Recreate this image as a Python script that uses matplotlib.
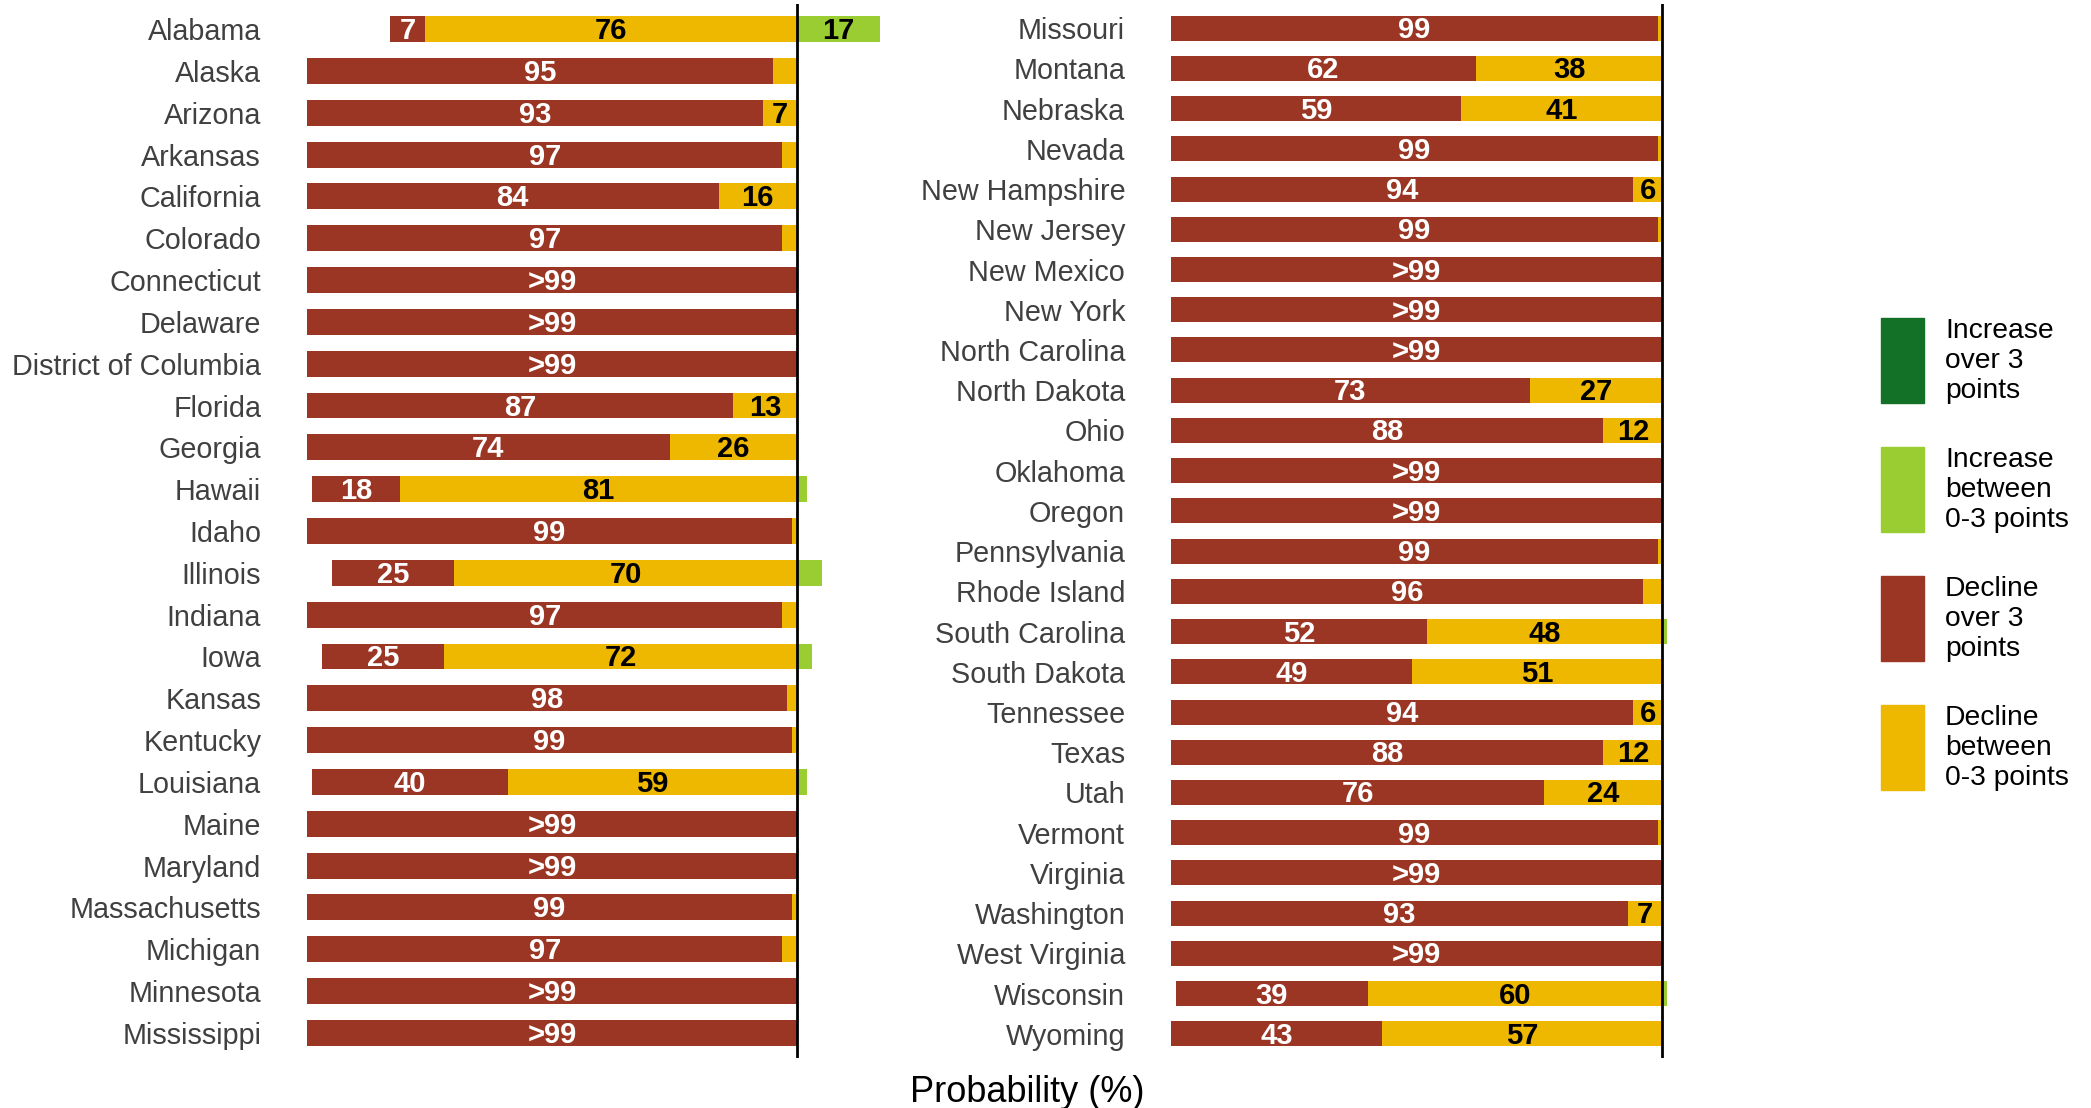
import matplotlib
matplotlib.use('Agg')
import matplotlib.pyplot as plt
from matplotlib.patches import Rectangle
from matplotlib.transforms import offset_copy

plt.rcParams['font.family'] = ['Liberation Sans', 'DejaVu Sans']

# data: probability (%) of each change category, >99 stored as 100
states_l = ['Alabama', 'Alaska', 'Arizona', 'Arkansas', 'California', 'Colorado',
            'Connecticut', 'Delaware', 'District of Columbia', 'Florida', 'Georgia',
            'Hawaii', 'Idaho', 'Illinois', 'Indiana', 'Iowa', 'Kansas', 'Kentucky',
            'Louisiana', 'Maine', 'Maryland', 'Massachusetts', 'Michigan',
            'Minnesota', 'Mississippi']
red_l = [7, 95, 93, 97, 84, 97, 100, 100, 100, 87, 74, 18, 99, 25, 97, 25, 98, 99,
         40, 100, 100, 99, 97, 100, 100]
yel_l = [76, 5, 7, 3, 16, 3, 0, 0, 0, 13, 26, 81, 1, 70, 3, 72, 2, 1,
         59, 0, 0, 1, 3, 0, 0]
grn_l = [17, 0, 0, 0, 0, 0, 0, 0, 0, 0, 0, 2, 0, 5, 0, 3, 0, 0,
         2, 0, 0, 0, 0, 0, 0]

states_r = ['Missouri', 'Montana', 'Nebraska', 'Nevada', 'New Hampshire', 'New Jersey',
            'New Mexico', 'New York', 'North Carolina', 'North Dakota', 'Ohio',
            'Oklahoma', 'Oregon', 'Pennsylvania', 'Rhode Island', 'South Carolina',
            'South Dakota', 'Tennessee', 'Texas', 'Utah', 'Vermont', 'Virginia',
            'Washington', 'West Virginia', 'Wisconsin', 'Wyoming']
red_r = [99, 62, 59, 99, 94, 99, 100, 100, 100, 73, 88, 100, 100, 99, 96, 52,
         49, 94, 88, 76, 99, 100, 93, 100, 39, 43]
yel_r = [1, 38, 41, 1, 6, 1, 0, 0, 0, 27, 12, 0, 0, 1, 4, 48,
         51, 6, 12, 24, 1, 0, 7, 0, 60, 57]
grn_r = [0, 0, 0, 0, 0, 0, 0, 0, 0, 0, 0, 0, 0, 0, 0, 1,
         0, 0, 0, 0, 0, 0, 0, 0, 1, 0]

legend_labels = ['Increase\nover 3\npoints', 'Increase\nbetween\n0-3 points',
                 'Decline\nover 3\npoints', 'Decline\nbetween\n0-3 points']

C_DKGRN = '#127126'
C_LTGRN = '#9acd32'
C_RED = '#9b3624'
C_YEL = '#eeb700'

W, H = 2091, 1108
fig = plt.figure(figsize=(W / 100, H / 100), dpi=100)


def px(x0, y0, x1, y1):
    return [x0 / W, 1 - y1 / H, (x1 - x0) / W, (y1 - y0) / H]


def lab(v):
    return '>99' if v >= 100 else str(v)


def panel(ax, states, red, yel, grn, xmax):
    n = len(states)
    y = list(range(n))
    h = 0.62
    left_red = [-(r + yy) for r, yy in zip(red, yel)]
    ax.barh(y, red, left=left_red, height=h, color=C_RED)
    ax.barh(y, yel, left=[-v for v in yel], height=h, color=C_YEL)
    ax.barh(y, grn, left=0, height=h, color=C_LTGRN)
    # baseline shifted down so digits sit centred in the bar
    tr = offset_copy(ax.transData, fig=fig, y=-10, units='dots')
    kw = dict(ha='center', va='baseline', fontsize=21, fontweight='bold', transform=tr)
    for i in range(n):
        if red[i] >= 6:
            ax.text(left_red[i] + red[i] / 2, i, lab(red[i]), color='white', **kw)
        if yel[i] >= 6:
            ax.text(-yel[i] / 2, i, lab(yel[i]), color='black', **kw)
        if grn[i] >= 6:
            ax.text(grn[i] / 2, i, lab(grn[i]), color='black', **kw)
    ax.axvline(0, color='black', lw=2)
    ax.set_xlim(-100, xmax)
    ax.set_ylim(n - 1 + 0.6, -0.6)
    ax.set_yticks(y)
    ax.set_yticklabels(states, fontsize=20.7, color='#404040')
    ax.tick_params(axis='y', length=0, pad=33)
    ax.set_xticks([])
    for s in ax.spines.values():
        s.set_visible(False)


ax_l = fig.add_axes(px(307, 4, 895, 1058))
panel(ax_l, states_l, red_l, yel_l, grn_l, 20)
ax_r = fig.add_axes(px(1171, 4, 1687, 1058))
panel(ax_r, states_r, red_r, yel_r, grn_r, 5)

fig.text(1027 / W, 1 - 1093 / H, 'Probability (%)', ha='center', va='center', fontsize=26)

# legend
for k, (c, t) in enumerate(zip([C_DKGRN, C_LTGRN, C_RED, C_YEL], legend_labels)):
    top = 318 + k * 129
    fig.patches.append(Rectangle((1881 / W, 1 - (top + 85) / H), 43 / W, 85 / H,
                                 transform=fig.transFigure, color=c))
    fig.text(1945 / W, 1 - top / H, t, ha='left', va='top', fontsize=20.3,
             linespacing=1.21, color='black')

fig.savefig('out.png', dpi=100)
